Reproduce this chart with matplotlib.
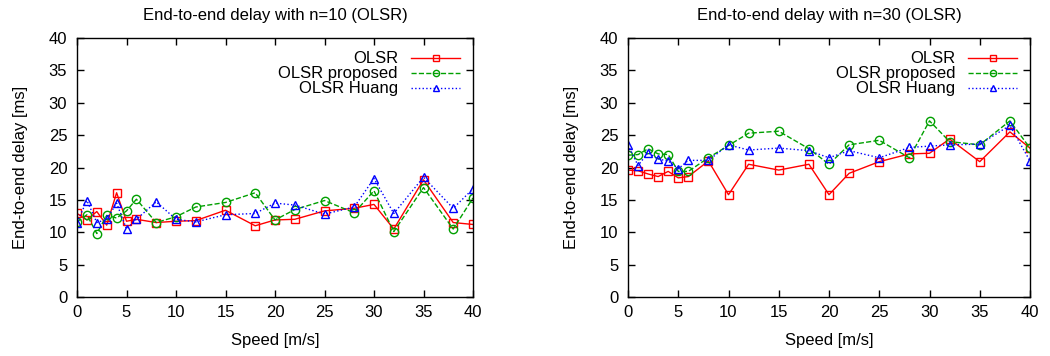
import matplotlib
matplotlib.use("Agg")
import matplotlib.pyplot as plt

plt.rcParams['font.family'] = ['Liberation Sans', 'DejaVu Sans']
plt.rcParams['font.size'] = 12

speed = [0, 1, 2, 3, 4, 5, 6, 8, 10, 12, 15, 18, 20, 22, 25, 28, 30, 32, 35, 38, 40]

n10_olsr = [12.9, 11.9, 13.2, 11.1, 16.1, 11.7, 12.0, 11.5, 11.7, 11.8, 13.4, 11.0,
            11.9, 12.0, 13.3, 13.7, 14.3, 10.5, 18.1, 11.5, 11.2]
n10_proposed = [11.6, 12.7, 9.8, 12.6, 12.2, 13.3, 15.1, 11.5, 12.4, 13.9, 14.6, 16.1,
                11.9, 13.5, 14.9, 13.0, 16.4, 10.1, 16.9, 10.5, 15.3]
n10_huang = [11.5, 14.9, 11.5, 12.0, 14.5, 10.5, 12.0, 14.7, 12.0, 11.6, 12.7, 12.9,
             14.5, 14.2, 12.8, 13.9, 18.3, 12.9, 18.5, 13.7, 16.7]

n30_olsr = [19.6, 19.5, 19.0, 18.6, 19.4, 18.4, 18.6, 21.0, 15.8, 20.5, 19.6, 20.5,
            15.8, 19.1, 20.9, 22.1, 22.2, 24.4, 20.9, 25.5, 23.0]
n30_proposed = [21.9, 22.0, 22.9, 22.1, 22.0, 19.4, 19.4, 21.5, 23.4, 25.3, 25.6, 22.9,
                20.5, 23.5, 24.2, 21.5, 27.2, 24.0, 23.5, 27.2, 23.0]
n30_huang = [23.5, 20.3, 22.3, 21.3, 21.0, 19.8, 21.1, 21.1, 23.5, 22.7, 23.0, 22.6,
             21.5, 22.6, 21.5, 23.1, 23.3, 23.5, 23.6, 26.5, 21.0]

titles = ["End-to-end delay with n=10 (OLSR)", "End-to-end delay with n=30 (OLSR)"]
labels = ["OLSR", "OLSR proposed", "OLSR Huang"]
xticks = [0, 5, 10, 15, 20, 25, 30, 35, 40]
yticks = [0, 5, 10, 15, 20, 25, 30, 35, 40]

fig = plt.figure(figsize=(10.5, 3.56), dpi=100)
axes = [fig.add_axes([77/1050, 59/356, 396/1050, 259/356]),
        fig.add_axes([628/1050, 59/356, 402/1050, 259/356])]

datasets = [(n10_olsr, n10_proposed, n10_huang), (n30_olsr, n30_proposed, n30_huang)]
styles = [dict(color='#ff0000', linestyle='-', marker='s', ms=6),
          dict(color='#00a000', linestyle='--', marker='o', ms=6),
          dict(color='#0000ff', linestyle=':', marker='^', ms=6)]

for ax, title, data in zip(axes, titles, datasets):
    for series, lab, st in zip(data, labels, styles):
        ax.plot(speed, series, label=lab, color=st['color'], linestyle=st['linestyle'],
                marker=st['marker'], markersize=st['ms'], markerfacecolor='none',
                markeredgecolor=st['color'], linewidth=1, markeredgewidth=1)
    ax.set_xlim(0, 40)
    ax.set_ylim(0, 40)
    ax.set_xticks(xticks)
    ax.set_yticks(yticks)
    ax.tick_params(direction='in', top=True, right=True, length=5, width=1, labelsize=12)
    ax.tick_params(axis='x', pad=6)
    ax.tick_params(axis='y', pad=7)
    for s in ax.spines.values():
        s.set_linewidth(1)
    ax.set_title(title, fontsize=12, pad=13)
    ax.set_xlabel("Speed [m/s]", fontsize=12, labelpad=9)
    ax.set_ylabel("End-to-end delay [ms]", fontsize=12, labelpad=15)
    leg = ax.legend(loc='upper right', frameon=False, markerfirst=False, fontsize=12,
                    handlelength=2.9, labelspacing=0.0, borderaxespad=0.4,
                    handletextpad=0.8, markerscale=0.75)
    for t in leg.get_texts():
        t.set_ha('right')
    vp = leg._legend_box.get_children()[1]
    vp.align = 'right'

fig.savefig("out.png", dpi=100)
